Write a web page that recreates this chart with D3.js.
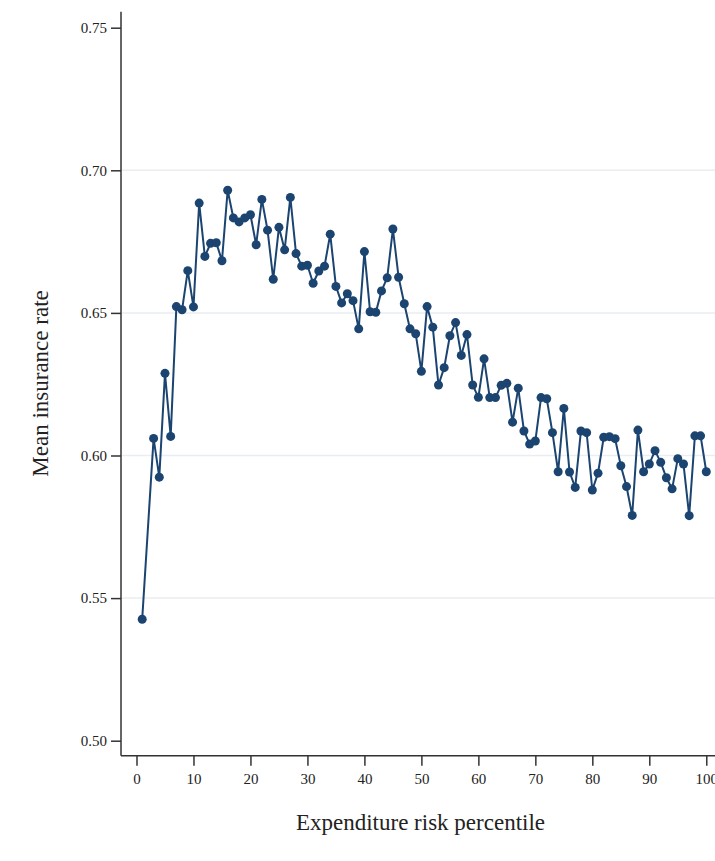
<!DOCTYPE html>
<html>
<head>
<meta charset="utf-8">
<script src="https://cdn.jsdelivr.net/npm/d3@7"></script>
<style>
  html, body { margin: 0; padding: 0; background: #fff; }
  svg { display: block; }
  text { font-family: "Liberation Serif", "Times New Roman", serif; fill: #222; }
</style>
</head>
<body>
<svg id="chart" width="715" height="861"></svg>
<script>
// ---- data ----
const percentiles = [1,3,4,5,6,7,8,9,10,11,12,13,14,15,16,17,18,19,20,
  21,22,23,24,25,26,27,28,29,30,31,32,33,34,35,36,37,38,39,40,
  41,42,43,44,45,46,47,48,49,50,51,52,53,54,55,56,57,58,59,60,
  61,62,63,64,65,66,67,68,69,70,71,72,73,74,75,76,77,78,79,80,
  81,82,83,84,85,86,87,88,89,90,91,92,93,94,95,96,97,98,99,100];
const insuranceRate = [0.5426,0.6060,0.5924,0.6288,0.6067,0.6522,0.6511,0.6648,0.6521,0.6885,
  0.6698,0.6744,0.6746,0.6683,0.6930,0.6833,0.6819,0.6833,0.6844,
  0.6739,0.6898,0.6790,0.6618,0.6800,0.6721,0.6905,0.6708,0.6664,0.6667,
  0.6604,0.6647,0.6664,0.6776,0.6593,0.6535,0.6567,0.6543,0.6444,0.6715,
  0.6504,0.6502,0.6577,0.6623,0.6794,0.6625,0.6532,0.6444,0.6427,0.6295,
  0.6522,0.6450,0.6247,0.6308,0.6420,0.6466,0.6351,0.6424,0.6247,0.6204,
  0.6339,0.6203,0.6203,0.6246,0.6253,0.6117,0.6236,0.6086,0.6040,0.6051,
  0.6203,0.6199,0.6080,0.5943,0.6165,0.5942,0.5888,0.6086,0.6080,0.5879,
  0.5938,0.6064,0.6066,0.6059,0.5964,0.5891,0.5790,0.6089,0.5943,0.5970,
  0.6017,0.5976,0.5922,0.5883,0.5989,0.5970,0.5789,0.6069,0.6069,0.5943];
const xTicks = [0,10,20,30,40,50,60,70,80,90,100];
const yTicks = [0.50,0.55,0.60,0.65,0.70,0.75];
const gridTicks = [0.55,0.60,0.65,0.70];
const xTitle = "Expenditure risk percentile";
const yTitle = "Mean insurance rate";

// ---- drawing ----
const svg = d3.select("#chart");
const padL = 121, padR = 715, padT = 11.7, padB = 755.7;
const color = "#1b4470";

const x = d3.scaleLinear().domain([-2.72, 101.53]).range([padL, padR]);
const y = d3.scaleLinear().domain([0.49474, 0.75561]).range([padB, padT]);

// gridlines
svg.append("g").selectAll("line").data(gridTicks).join("line")
  .attr("x1", padL).attr("x2", padR)
  .attr("y1", d => y(d)).attr("y2", d => y(d))
  .attr("stroke", "#e8eef2").attr("stroke-width", 1.5);

// y axis
const yAxis = svg.append("g").attr("transform", `translate(${padL},0)`)
  .call(d3.axisLeft(y).tickValues(yTicks).tickFormat(d3.format(".2f")).tickSize(10).tickPadding(4));
// x axis
const xAxis = svg.append("g").attr("transform", `translate(0,${padB})`)
  .call(d3.axisBottom(x).tickValues(xTicks).tickFormat(d3.format("d")).tickSize(10).tickPadding(8));

[yAxis, xAxis].forEach(g => {
  g.select(".domain").attr("stroke", "#333").attr("stroke-width", 1.5);
  g.selectAll(".tick line").attr("stroke", "#333").attr("stroke-width", 1.5);
  g.selectAll(".tick text").attr("fill", "#222")
    .style("font-family", '"Liberation Serif", serif').style("font-size", "15px");
});
yAxis.select(".domain").attr("d", `M0,${padT}V${padB}`);
xAxis.select(".domain").attr("d", `M${padL},0H${padR}`);

// line
const data = percentiles.map((p, i) => ({p, v: insuranceRate[i]}));
svg.append("path").datum(data)
  .attr("fill", "none").attr("stroke", color).attr("stroke-width", 2)
  .attr("d", d3.line().x(d => x(d.p)).y(d => y(d.v)));

// points
svg.append("g").selectAll("circle").data(data).join("circle")
  .attr("cx", d => x(d.p)).attr("cy", d => y(d.v)).attr("r", 4.5)
  .attr("fill", color);

// titles
svg.append("text").attr("x", 420.5).attr("y", 830)
  .attr("text-anchor", "middle").style("font-size", "23px").text(xTitle);
svg.append("text").attr("transform", `translate(48,${(287+480)/2}) rotate(-90)`)
  .attr("text-anchor", "middle").style("font-size", "23px").text(yTitle);
</script>
</body>
</html>
